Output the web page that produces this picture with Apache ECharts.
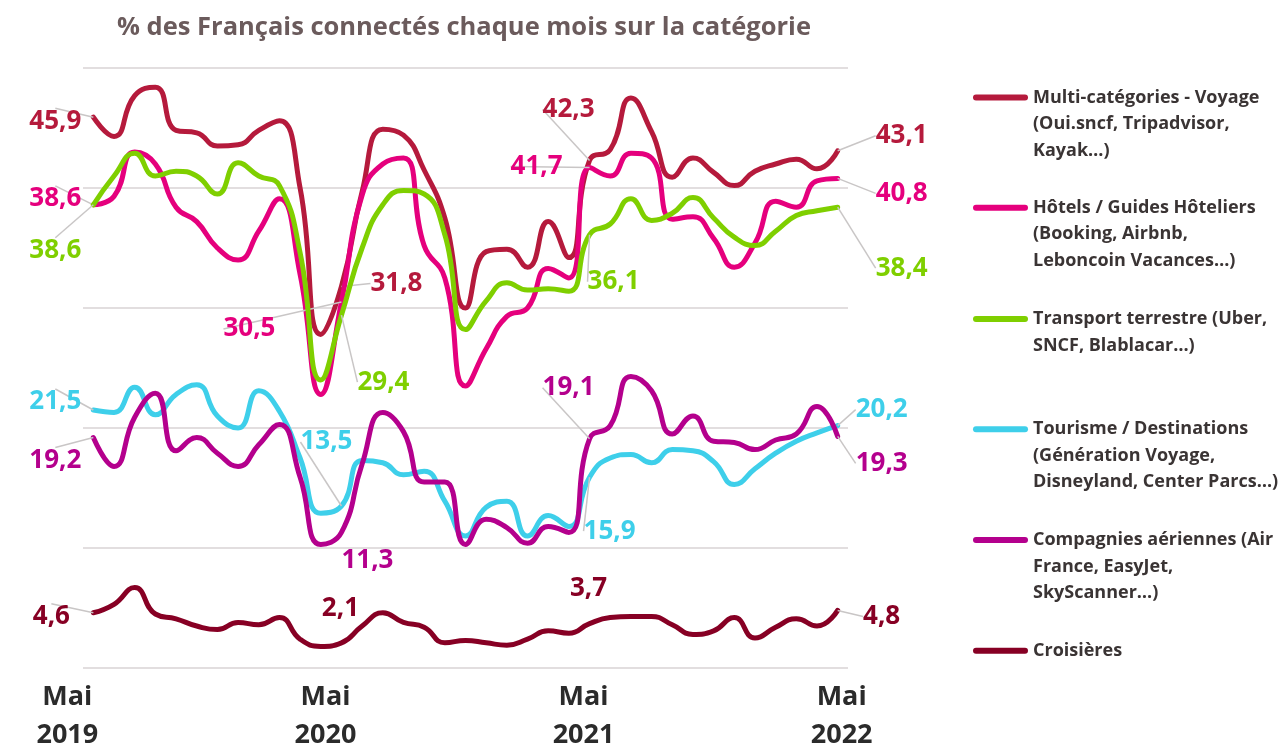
<!DOCTYPE html>
<html><head><meta charset="utf-8">
<script src="https://cdn.jsdelivr.net/npm/echarts@6/dist/echarts.min.js"></script>
<style>html,body{margin:0;padding:0;background:#fff}#c{width:1279px;height:744px}</style>
</head><body><div id="c"></div>
<script>
// ---------- DATA ----------
const months = ['Mai 2019','Juin 2019','Juil 2019','Août 2019','Sept 2019','Oct 2019','Nov 2019','Déc 2019',
  'Janv 2020','Févr 2020','Mars 2020','Avr 2020','Mai 2020','Juin 2020','Juil 2020','Août 2020','Sept 2020','Oct 2020','Nov 2020','Déc 2020',
  'Janv 2021','Févr 2021','Mars 2021','Avr 2021','Mai 2021','Juin 2021','Juil 2021','Août 2021','Sept 2021','Oct 2021','Nov 2021','Déc 2021',
  'Janv 2022','Févr 2022','Mars 2022','Avr 2022','Mai 2022'];
const seriesNames = [
  'Multi-catégories - Voyage (Oui.sncf, Tripadvisor, Kayak…)',
  'Hôtels / Guides Hôteliers (Booking, Airbnb, Leboncoin Vacances…)',
  'Transport terrestre (Uber, SNCF, Blablacar…)',
  'Tourisme / Destinations (Génération Voyage, Disneyland, Center Parcs…)',
  'Compagnies aériennes (Air France, EasyJet, SkyScanner…)',
  'Croisières'
];
const legendLines = [
  ['Multi-catégories - Voyage', '(Oui.sncf, Tripadvisor,', 'Kayak…)'],
  ['Hôtels / Guides Hôteliers', '(Booking, Airbnb,', 'Leboncoin Vacances…)'],
  ['Transport terrestre (Uber,', 'SNCF, Blablacar…)'],
  ['Tourisme / Destinations', '(Génération Voyage,', 'Disneyland, Center Parcs…)'],
  ['Compagnies aériennes (Air', 'France, EasyJet,', 'SkyScanner…)'],
  ['Croisières']
];
const multi   = [45.9,44.3,47.7,48.4,44.8,44.6,43.5,43.6,44.8,45.6,40.0,27.8,31.8,39.7,44.9,44.4,41.5,37.5,30.0,34.7,34.9,33.4,37.2,34.2,42.3,43.2,47.5,44.7,40.9,42.5,41.3,40.2,41.4,42.0,42.4,41.6,43.1];
const hotels  = [38.6,39.3,43.0,42.0,38.4,37.2,35.0,34.0,36.4,39.1,32.8,22.8,30.5,39.4,42.0,42.5,35.2,32.5,23.5,26.6,29.3,30.0,33.3,32.5,41.7,41.0,42.9,42.5,37.4,37.6,35.8,33.4,35.4,38.9,38.4,40.6,40.8];
const transport = [38.6,41.0,42.9,41.0,41.4,41.0,39.5,42.1,41.0,40.2,34.6,24.0,29.4,35.0,38.6,39.8,39.5,36.1,28.2,30.6,32.1,31.5,31.6,31.4,36.1,37.0,39.1,37.3,37.9,39.2,37.5,35.9,35.2,36.4,37.7,38.1,38.4];
const tourisme = [21.5,21.3,23.4,21.1,22.8,23.6,21.0,20.0,23.1,21.4,17.5,12.9,13.5,17.3,17.1,16.1,16.4,13.9,11.0,13.4,13.9,11.0,12.7,11.8,15.9,17.5,17.8,17.1,18.2,18.1,17.2,15.3,16.6,17.9,18.9,19.6,20.2];
const aerien  = [19.2,16.8,20.9,22.9,18.1,19.2,17.9,16.8,18.6,20.3,15.9,10.3,11.3,17.0,21.3,19.7,15.5,15.5,10.3,12.4,11.7,10.4,11.8,11.3,19.1,20.2,24.3,23.1,19.5,21.0,18.9,18.8,18.2,19.0,19.5,21.8,19.3];
const croisieres = [4.6,5.3,6.7,4.5,4.1,3.5,3.2,3.8,3.6,4.2,2.4,1.8,2.1,3.5,4.6,3.8,3.4,2.1,2.3,2.1,1.9,2.4,3.1,2.9,3.7,4.2,4.3,4.3,3.6,2.8,3.1,4.2,2.5,3.4,4.1,3.5,4.8];
const allValues = [multi, hotels, transport, tourisme, aerien, croisieres];
const labelledIdx = [0, 12, 24, 36];

// ---------- STYLES ----------
const colors = ['#B51A3C','#E5007D','#7FCF00','#3ECFEA','#B4008D','#870024'];
// label offsets (dx, dy) from the point, and whether a leader line is drawn
const labelOffsets = [
  [[-38,4,1],[55,-3,1],[-21,-51,1],[64,-15,1]],
  [[-38,-6,1],[-92,27,1],[-53,-1,1],[64,15,1]],
  [[-38,46,1],[42,67,1],[24,47,1],[64,61,1]],
  [[-38,-8,1],[-15,-64,1],[20,54,1],[44,-16,1]],
  [[-38,23,1],[26,28,0],[-21,-51,1],[44,27,1]],
  [[-42,4,1],[-1,-34,0],[-1,-35,0],[44,6,1]]
];
const legendIconCenters = [97.5, 207.7, 319, 429.3, 540, 650.7];
const LH = 26.5;
const FONT = '"Open Sans", Lato, sans-serif';
const yearShift = [-26, -16, -6, 4];

const fmt = v => v.toFixed(1).replace('.', ',');

const series = allValues.map((vals, s) => ({
  name: seriesNames[s],
  type: 'line',
  smooth: 0.5,
  showSymbol: true,
  showAllSymbol: true,
  symbol: 'circle',
  symbolSize: 0,
  lineStyle: { width: 5, color: colors[s], cap: 'round', join: 'round' },
  itemStyle: { color: colors[s] },
  emphasis: { disabled: true },
  data: vals.map((v, i) => {
    const k = labelledIdx.indexOf(i);
    if (k < 0) return v;
    return { value: v, label: { show: true }, labelLine: { show: !!labelOffsets[s][k][2] } };
  }),
  label: {
    show: false,
    position: 'inside',
    formatter: p => fmt(p.value),
    color: colors[s],
    fontFamily: FONT,
    fontWeight: 'bold',
    fontSize: 26,
    align: 'center',
    verticalAlign: 'middle'
  },
  labelLine: { show: true, lineStyle: { color: '#c9c6c6', width: 1.5 } },
  labelLayout: p => {
    const k = labelledIdx.indexOf(p.dataIndex);
    if (k < 0) return {};
    return { dx: labelOffsets[s][k][0], dy: labelOffsets[s][k][1] };
  },
  z: 2 + s
}));

const legends = seriesNames.map((name, s) => {
  const n = legendLines[s].length;
  return {
    orient: 'vertical',
    left: 973,
    top: legendIconCenters[s] - (2 * n - 1) * LH / 2,
    padding: 0,
    itemWidth: 55,
    itemHeight: 6,
    icon: 'path://M3,0L52,0A3,3,0,0,1,52,6L3,6A3,3,0,0,1,3,0Z',
    selectedMode: false,
    data: [name],
    formatter: () => '\n'.repeat(n - 1) + legendLines[s].join('\n'),
    textStyle: {
      fontFamily: FONT, fontWeight: 'bold', fontSize: 18, color: '#3a3434',
      lineHeight: LH
    }
  };
});

const rich = {};
yearShift.forEach((d, k) => {
  rich['y' + k] = {
    fontFamily: FONT, fontWeight: 'bold', fontSize: 27, color: '#2b2b2b', lineHeight: 38,
    padding: d < 0 ? [0, -2 * d, 0, 0] : [0, 0, 0, 2 * d]
  };
});

const chart = echarts.init(document.getElementById('c'), null, { renderer: 'canvas' });
chart.setOption({
  animation: false,
  backgroundColor: '#ffffff',
  title: {
    text: '% des Français connectés chaque mois sur la catégorie',
    left: 112, top: 10,
    textStyle: { fontFamily: FONT, fontWeight: 'bold', fontSize: 25.5, color: '#6b5b5c' }
  },
  legend: legends,
  grid: { left: 83, top: 68, width: 765, height: 600, containLabel: false, outerBoundsMode: 'none' },
  xAxis: {
    type: 'category',
    data: months,
    boundaryGap: true,
    axisLine: { show: false },
    axisTick: { show: false },
    axisLabel: {
      interval: i => i % 12 === 0,
      margin: 10,
      formatter: (val, i) => {
        const k = Math.round(i / 12);
        const parts = val.split(' ');
        return '{y' + k + '|' + parts[0] + '}\n{y' + k + '|' + parts[1] + '}';
      },
      rich: rich
    },
    splitLine: { show: false }
  },
  yAxis: {
    type: 'value',
    min: 0, max: 50, interval: 10,
    axisLabel: { show: false },
    axisLine: { show: false },
    axisTick: { show: false },
    splitLine: { show: true, lineStyle: { color: '#e2dedf', width: 2 } }
  },
  series: series
});
</script>
</body></html>
